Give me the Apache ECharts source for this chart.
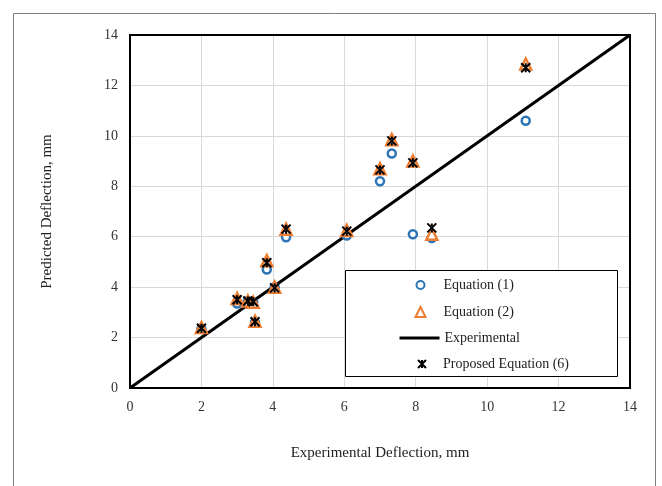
<!DOCTYPE html>
<html><head><meta charset="utf-8">
<script src="https://cdn.jsdelivr.net/npm/echarts@6/dist/echarts.min.js"></script>
<style>html,body{margin:0;padding:0;background:#fff}#c{width:662px;height:486px}</style>
</head><body><div id="c"></div>
<script>
const expX = [2.0, 3.0, 3.3, 3.45, 3.5, 3.83, 4.05, 4.37, 6.07, 7.0, 7.33, 7.92, 8.45, 11.08];
const eq1 = [2.35, 3.35, 3.45, 3.4, 2.6, 4.7, 4.0, 5.98, 6.05, 8.2, 9.3, 6.1, 5.95, 10.6];
const eq2 = [2.4, 3.55, 3.45, 3.4, 2.65, 5.05, 4.0, 6.3, 6.25, 8.7, 9.85, 9.0, 6.1, 12.85];
const eq6 = [2.37, 3.5, 3.45, 3.42, 2.63, 4.97, 3.97, 6.3, 6.22, 8.65, 9.8, 8.93, 6.35, 12.7];
const lineX = [0, 14];
const axisTicks = [0, 2, 4, 6, 8, 10, 12, 14];
const names = ['Equation (1)', 'Equation (2)', 'Experimental', 'Proposed Equation (6)'];

const pair = (xs, ys) => xs.map((x, i) => [x, ys[i]]);
const font = 'Liberation Serif';
const chart = echarts.init(document.getElementById('c'));
const xMark = 'path://M0,0L10,10M10,0L0,10M5,0L5,3M5,7L5,10';
const legTxt = {fontFamily: font, fontSize: 14, color: '#222'};
const rowC = [284, 311, 337, 363];
function leg(i, w, h, icon, tp, extra) {
  return Object.assign({
    z: 60, orient: 'vertical', left: 419.5 - w / 2, top: rowC[i] - 6, itemWidth: w, itemHeight: h,
    padding: 0,
    data: [{name: names[i], icon: icon}],
    selectedMode: false,
    textStyle: Object.assign({}, legTxt, {padding: [0, 0, 0, tp]})
  }, extra || {});
}
chart.setOption({
  animation: false,
  textStyle: {fontFamily: font},
  grid: {left: 130, right: 32, top: 35, bottom: 98, show: true, borderColor: '#000', borderWidth: 2, z: 3},
  xAxis: {
    type: 'value', min: axisTicks[0], max: axisTicks[axisTicks.length - 1], interval: 2,
    name: 'Experimental Deflection, mm', nameLocation: 'middle', nameGap: 58,
    nameTextStyle: {fontFamily: font, fontSize: 15, color: '#222'},
    axisLine: {show: false}, axisTick: {show: false},
    axisLabel: {fontFamily: font, fontSize: 14, color: '#333', margin: 12},
    splitLine: {lineStyle: {color: '#d9d9d9', width: 1}}
  },
  yAxis: {
    type: 'value', min: axisTicks[0], max: axisTicks[axisTicks.length - 1], interval: 2,
    name: 'Predicted Deflection, mm', nameLocation: 'middle', nameGap: 75,
    nameTextStyle: {fontFamily: font, fontSize: 15, color: '#222'},
    axisLine: {show: false}, axisTick: {show: false},
    axisLabel: {fontFamily: font, fontSize: 14, color: '#333', margin: 12},
    splitLine: {lineStyle: {color: '#d9d9d9', width: 1}}
  },
  graphic: [
    {type: 'rect', left: 11, top: 11, shape: {width: 642, height: 520}, style: {fill: 'none', stroke: '#7f7f7f', lineWidth: 1}, z: 0, silent: true},
    {type: 'rect', left: 345, top: 270, shape: {width: 272, height: 106}, style: {fill: '#fff', stroke: '#000', lineWidth: 1}, z: 50, silent: true}
  ],
  legend: [
    leg(0, 8, 8, 'circle', 14),
    leg(1, 10, 10, 'triangle', 13),
    leg(2, 40, 3, 'rect', 0, {itemStyle: {color: '#000', borderWidth: 0}}),
    leg(3, 8, 8, xMark, 12)
  ],
  series: [
    {name: names[2], type: 'line', data: pair(lineX, lineX), symbol: 'none', z: 1,
     lineStyle: {color: '#000', width: 3}, itemStyle: {color: '#000'}},
    {name: names[0], type: 'scatter', data: pair(expX, eq1), symbol: 'circle', symbolSize: 8, z: 2,
     itemStyle: {color: '#fff', borderColor: '#2e75b6', borderWidth: 2.5, opacity: 1}},
    {name: names[1], type: 'scatter', data: pair(expX, eq2), symbol: 'triangle', symbolSize: 11, z: 3,
     itemStyle: {color: '#fff', borderColor: '#ed7d31', borderWidth: 2.5, opacity: 1}},
    {name: names[3], type: 'scatter', data: pair(expX, eq6), symbol: xMark, symbolSize: 9, z: 4,
     itemStyle: {color: 'none', borderColor: '#000', borderWidth: 2, opacity: 1}}
  ]
});
</script></body></html>
